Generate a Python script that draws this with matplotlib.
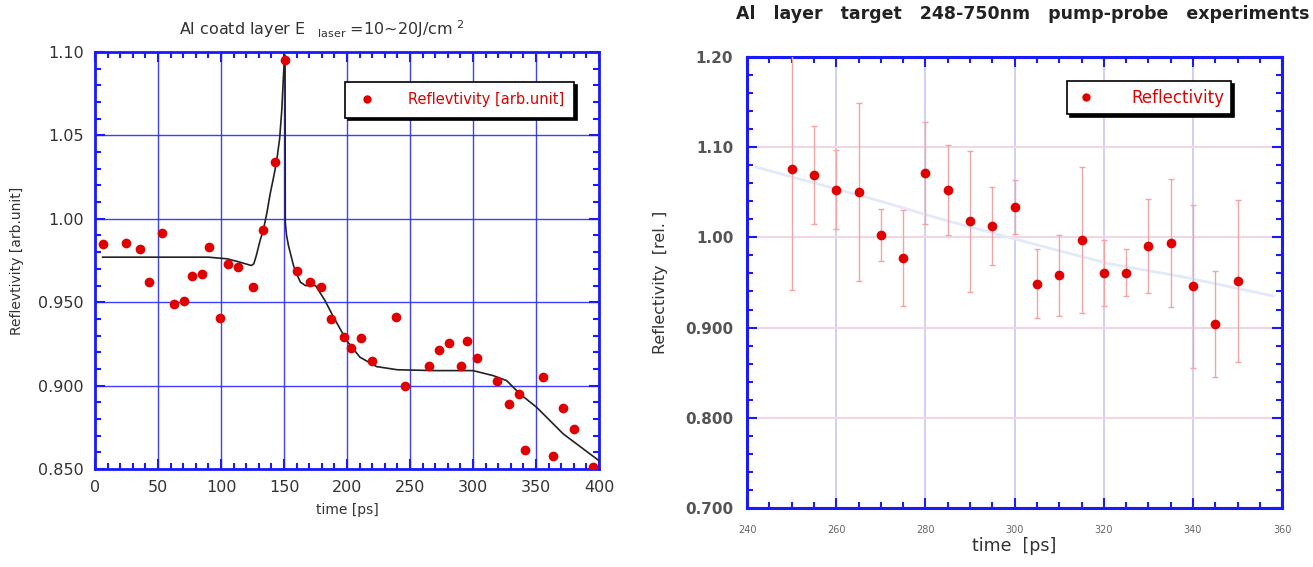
import numpy as np
import matplotlib
matplotlib.use("Agg")
import matplotlib.pyplot as plt
from matplotlib.lines import Line2D
from matplotlib.ticker import MultipleLocator

# ── données : graphe de gauche (points + ajustement) ─────────────────────────
t_left = [6.3, 24.3, 35.5, 42.6, 52.9, 62.4, 70.4, 77.2, 85.2, 90.7,
          99.5, 105.8, 113.5, 125.1, 133.3, 142.9, 150.8, 160.3, 170.9, 179.4,
          187.3, 197.4, 203.2, 211.1, 219.8, 238.6, 246.3, 265.1, 272.8, 280.7,
          290.2, 295.5, 303.2, 318.8, 328.3, 336.3, 341.3, 355.8, 363.8, 371.7,
          380.2, 395.5]
r_left = [0.985, 0.9855, 0.982, 0.962, 0.9914, 0.949, 0.9505, 0.9655, 0.967, 0.983,
          0.9403, 0.973, 0.9714, 0.959, 0.9934, 1.034, 1.095, 0.9685, 0.962, 0.959,
          0.940, 0.9292, 0.9228, 0.9286, 0.9148, 0.941, 0.8996, 0.9118, 0.9214, 0.9257,
          0.9116, 0.9265, 0.9163, 0.903, 0.8888, 0.8948, 0.8617, 0.9052, 0.858, 0.8868,
          0.8737, 0.851]

fit_t = [6, 30, 60, 90, 105, 115, 124, 126, 128, 131, 133.5, 136.5, 139, 142,
         144.2, 146.5, 148.2, 149.5, 150.5, 150.8, 151, 152, 153.5, 155, 157.5,
         160, 163, 167, 175, 182.5, 189, 199.7, 210.3, 223.5, 240, 270, 300,
         316, 326.7, 337.3, 350.5, 371.7, 400]
fit_r = [0.977, 0.977, 0.977, 0.977, 0.976, 0.974, 0.972, 0.973, 0.978, 0.987,
         0.993, 1.004, 1.015, 1.026, 1.035, 1.048, 1.065, 1.085, 1.098, 1.098,
         0.998, 0.990, 0.984, 0.9795, 0.972, 0.967, 0.962, 0.960, 0.960, 0.951,
         0.9415, 0.927, 0.917, 0.9114, 0.9095, 0.909, 0.909, 0.906, 0.903, 0.895,
         0.887, 0.871, 0.855]

left_yticks = [0.850, 0.900, 0.950, 1.00, 1.05, 1.10]
left_ylabels = ["0.850", "0.900", "0.950", "1.00", "1.05", "1.10"]
left_xticks = [0, 50, 100, 150, 200, 250, 300, 350, 400]

# ── données : graphe de droite (points + barres d'erreur) ────────────────────
t_right = [250, 255, 260, 265, 270, 275, 280, 285, 290, 295, 300,
           305, 310, 315, 320, 325, 330, 335, 340, 345, 350]
r_right = [1.0756, 1.0692, 1.053, 1.0503, 1.0026, 0.9774, 1.0714, 1.0522, 1.0178,
           1.0126, 1.034, 0.9486, 0.9578, 0.9974, 0.9604, 0.9608, 0.990, 0.9933,
           0.9456, 0.904, 0.9514]
err_right = [0.134, 0.054, 0.044, 0.099, 0.029, 0.053, 0.057, 0.050, 0.078,
             0.043, 0.030, 0.038, 0.045, 0.081, 0.037, 0.026, 0.052, 0.071,
             0.090, 0.059, 0.090]

trend_t = [242, 270, 283, 304, 321, 338, 358]
trend_r = [1.078, 1.040, 1.021, 0.993, 0.971, 0.956, 0.935]

right_yticks = [0.700, 0.800, 0.900, 1.00, 1.10, 1.20]
right_ylabels = ["0.700", "0.800", "0.900", "1.00", "1.10", "1.20"]
right_xticks = [240, 260, 280, 300, 320, 340, 360]

BLUE = "#1a1aff"
RED = "#e00000"


def style_frame(ax, lw=2.0):
    for s in ax.spines.values():
        s.set_color(BLUE)
        s.set_linewidth(lw)
    ax.tick_params(which="both", direction="in", color=BLUE,
                   top=True, right=True, width=1.5)
    ax.tick_params(which="major", length=7)
    ax.tick_params(which="minor", length=4)


fig = plt.figure(figsize=(13.13, 5.67), dpi=100)

# ══════════════════════════════════════════════════════════════════════════════
# GAUCHE
# ══════════════════════════════════════════════════════════════════════════════
ax1 = fig.add_axes([0.0724, 0.1728, 0.3838, 0.7355])
ax1.set_xlim(0, 400)
ax1.set_ylim(0.850, 1.10)
ax1.set_xticks(left_xticks)
ax1.set_yticks(left_yticks)
ax1.set_yticklabels(left_ylabels)
ax1.xaxis.set_minor_locator(MultipleLocator(10))
ax1.yaxis.set_minor_locator(MultipleLocator(0.01))
ax1.grid(True, which="major", color="#2a2aff", lw=1.0, alpha=0.9)
style_frame(ax1)
ax1.tick_params(labelsize=11.5, labelcolor="#333333", pad=8)

ax1.plot(fit_t, fit_r, color="#222222", lw=1.2, zorder=3)
ax1.plot(t_left, r_left, "o", color=RED, ms=7, mec="none", zorder=4)

ax1.set_xlabel("time [ps]", fontsize=10, color="#333333", labelpad=6)
ax1.set_ylabel("Reflevtivity [arb.unit]", fontsize=10, color="#333333", labelpad=10)
ax1.set_title(r"Al coatd layer E$\;\;\;_{\rm laser}\;$=10~20J/cm$\;^{\rm 2}$",
              fontsize=11.5, color="#333333", pad=12, x=0.45)

h1 = Line2D([], [], ls="none", marker="o", color=RED, ms=6, mec="none")
leg1 = ax1.legend([h1], ["Reflevtivity [arb.unit]"], loc="upper left",
                  bbox_to_anchor=(0.482, 0.945), frameon=True, fancybox=False,
                  shadow={"color": "black", "alpha": 1.0}, fontsize=10.5,
                  handletextpad=2.0, borderpad=0.7, handlelength=1.6)
leg1.get_frame().set_edgecolor("black")
leg1.get_frame().set_linewidth(1.2)
for txt in leg1.get_texts():
    txt.set_color(RED)

# ══════════════════════════════════════════════════════════════════════════════
# DROITE
# ══════════════════════════════════════════════════════════════════════════════
ax2 = fig.add_axes([0.569, 0.1041, 0.4075, 0.7954])
ax2.set_xlim(240, 360)
ax2.set_ylim(0.700, 1.20)
ax2.set_xticks(right_xticks)
ax2.set_yticks(right_yticks)
ax2.set_yticklabels(right_ylabels)
ax2.xaxis.set_minor_locator(MultipleLocator(5))
ax2.yaxis.set_minor_locator(MultipleLocator(0.02))
ax2.xaxis.grid(True, color="#c8c8f4", lw=1.2)
ax2.yaxis.grid(True, color="#f2d6e4", lw=1.5)
style_frame(ax2, lw=2.2)
ax2.tick_params(axis="y", labelsize=11, labelcolor="#555555", pad=10)
ax2.tick_params(axis="x", labelsize=7, labelcolor="#666666", pad=12)
for lab in ax2.get_yticklabels():
    lab.set_fontweight("bold")

ax2.plot(trend_t, trend_r, color="#e3e9f8", lw=2.0, zorder=2)
ax2.errorbar(t_right, r_right, yerr=err_right, fmt="none", ecolor="#f4a4a4",
             elinewidth=1.0, capsize=2.5, capthick=1.0, zorder=3)
ax2.plot(t_right, r_right, "o", color=RED, ms=7, mec="none", zorder=4)

ax2.set_xlabel("time  [ps]", fontsize=12.5, color="#333333", labelpad=2)
ax2.set_ylabel("Reflectivity  [rel. ]", fontsize=11.5, color="#333333", labelpad=12)
ax2.set_title("Al   layer   target   248-750nm   pump-probe   experiments",
              fontsize=12.5, fontweight="bold", color="#222222", pad=27, x=0.515)

h2 = Line2D([], [], ls="none", marker="o", color=RED, ms=6, mec="none")
leg2 = ax2.legend([h2], ["Reflectivity"], loc="upper left",
                  bbox_to_anchor=(0.582, 0.965), frameon=True, fancybox=False,
                  shadow={"color": "black", "alpha": 1.0}, fontsize=12,
                  handletextpad=2.0, borderpad=0.45, handlelength=1.4)
leg2.get_frame().set_edgecolor("black")
leg2.get_frame().set_linewidth(1.2)
for txt in leg2.get_texts():
    txt.set_color(RED)

fig.savefig("out.png", dpi=100)
